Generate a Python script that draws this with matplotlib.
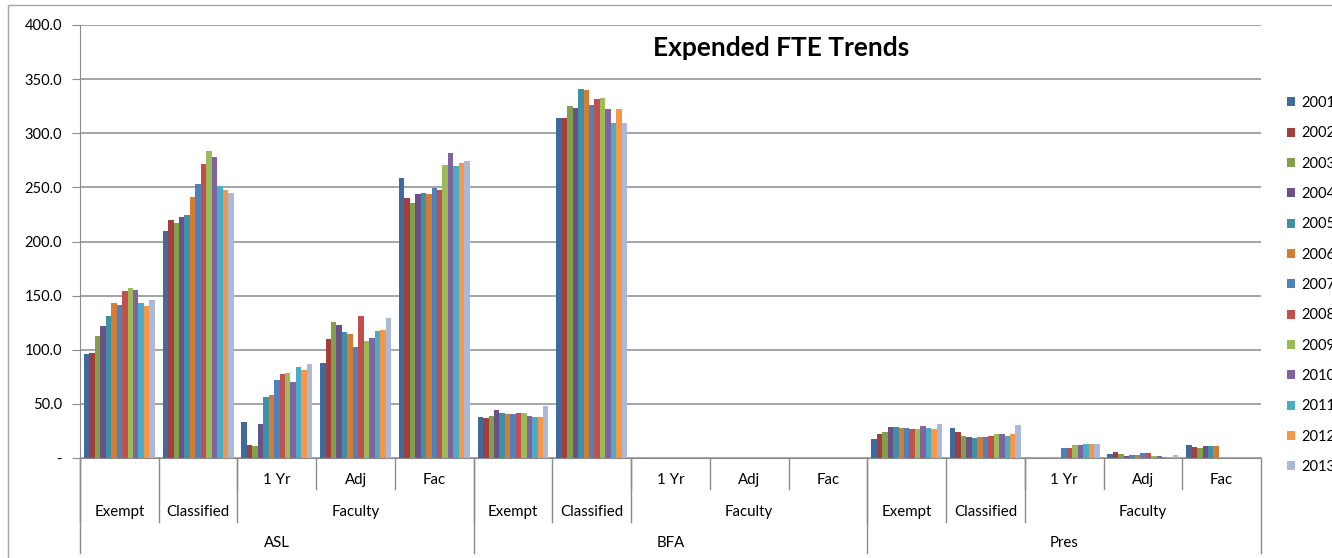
import numpy as np
import matplotlib.pyplot as plt
from matplotlib.patches import Rectangle

plt.rcParams['font.family'] = ['Lato', 'DejaVu Sans']

# Category axis (three levels)
sub_labels = ["", "", "1 Yr", "Adj", "Fac"] * 3
mid_labels = ["Exempt", "Classified", "Faculty"] * 3
mid_spans = [1, 1, 3] * 3
top_labels = ["ASL", "BFA", "Pres"]
top_spans = [5, 5, 5]

years = ["2001", "2002", "2003", "2004", "2005", "2006", "2007",
         "2008", "2009", "2010", "2011", "2012", "2013"]

# Expended FTE per year, one value per category (ASL x5, BFA x5, Pres x5)
fte_2001 = [96.4, 209.8, 33.3, 87.7, 258.6, 37.9, 313.8, 0, 0, 0, 17.6, 27.5, 0, 3.7, 11.7]
fte_2002 = [97.0, 219.6, 12.3, 109.6, 240.1, 37.0, 314.4, 0, 0, 0, 22.2, 23.8, 0, 5.9, 10.2]
fte_2003 = [113.1, 217.2, 11.4, 125.6, 235.5, 38.8, 324.9, 0, 0, 0, 24.4, 20.4, 0, 4.0, 9.6]
fte_2004 = [122.3, 222.7, 31.8, 122.8, 244.1, 44.1, 323.1, 0, 0, 0, 28.7, 19.8, 0, 2.2, 11.4]
fte_2005 = [131.5, 224.9, 56.2, 116.0, 245.1, 41.3, 340.9, 0, 0, 0, 28.7, 18.2, 0, 2.8, 11.1]
fte_2006 = [142.9, 240.9, 58.0, 114.8, 244.1, 40.7, 339.7, 0, 0, 0, 27.8, 19.4, 0, 3.1, 11.4]
fte_2007 = [141.1, 252.9, 71.9, 102.5, 249.7, 40.4, 325.8, 0, 0, 0, 27.5, 19.1, 8.9, 4.9, 0]
fte_2008 = [154.3, 272.0, 77.5, 131.2, 247.8, 41.9, 332.0, 0, 0, 0, 26.5, 20.1, 8.9, 4.9, 0]
fte_2009 = [157.1, 283.4, 78.1, 107.7, 271.0, 41.9, 332.3, 0, 0.6, 0, 26.9, 22.5, 12.0, 1.5, 0]
fte_2010 = [154.9, 278.5, 70.1, 110.8, 281.8, 38.8, 322.1, 0, 0, 0, 29.3, 21.9, 12.0, 1.8, 0]
fte_2011 = [142.9, 251.1, 84.0, 117.3, 270.1, 37.9, 309.5, 0, 0, 0, 27.5, 20.4, 12.9, 1.2, 0]
fte_2012 = [140.2, 247.4, 81.5, 118.5, 272.2, 37.9, 322.1, 0, 0, 0, 26.5, 21.9, 12.6, 1.2, 0]
fte_2013 = [146.0, 244.9, 86.7, 129.3, 274.7, 47.8, 309.5, 0, 0, 0, 31.2, 30.2, 12.6, 2.8, 0]

series = [fte_2001, fte_2002, fte_2003, fte_2004, fte_2005, fte_2006, fte_2007,
          fte_2008, fte_2009, fte_2010, fte_2011, fte_2012, fte_2013]

colors = ['#3F6A9E', '#A23E3C', '#82A04A', '#6A5288', '#3D90A5', '#D37D34', '#4F81BD',
          '#C0504D', '#9BBB59', '#8064A2', '#4BACC6', '#F79646', '#AAB9D9']

fig = plt.figure(figsize=(13.32, 5.58), dpi=100)
ax = fig.add_axes([80 / 1332, 1 - 458 / 558, (1261 - 80) / 1332, 433 / 558])

# outer chart border
fig.patches.append(Rectangle((8 / 1332, -0.1), 1.2, 1.1 - 5 / 558, transform=fig.transFigure,
                             fill=False, edgecolor='#a6a6a6', lw=1.0))

n_cat = len(sub_labels)
n_ser = len(series)
width = 0.9 / n_ser
x = np.arange(n_cat)
for i, vals in enumerate(series):
    ax.bar(x + 0.05 + width * (i + 0.5), vals, width, color=colors[i], label=years[i],
           linewidth=0, align='center')

ax.set_xlim(0, n_cat)
ax.set_ylim(0, 400)
ax.set_yticks(np.arange(0, 401, 50))
ax.set_yticklabels(['-'] + ['%.1f' % v for v in np.arange(50, 401, 50)], fontsize=10.5)
ax.yaxis.grid(True, color='#8c8c8c', lw=1.1)
ax.set_axisbelow(True)
ax.tick_params(axis='y', length=6, color='#8c8c8c', pad=7)
ax.set_xticks([])
for s in ['top', 'right']:
    ax.spines[s].set_visible(False)
ax.spines['left'].set_color('#8c8c8c')
ax.spines['bottom'].set_color('#8c8c8c')
ax.spines['bottom'].set_zorder(5)

trans = ax.get_xaxis_transform()
line_kw = dict(color='#8c8c8c', lw=1.0, clip_on=False, transform=trans)
lab_fs = 10.8
y1_lab, y1_bot = -0.051, -0.072
y2_lab, y2_bot = -0.125, -0.148
y3_lab, y3_bot = -0.196, -0.219

# level 1 labels (only under Faculty)
for i, lab in enumerate(sub_labels):
    if lab:
        ax.text(i + 0.5, y1_lab, lab, ha='center', va='center', fontsize=lab_fs, transform=trans)
        ax.plot([i, i], [0, y1_bot], **line_kw)

# level 2 labels
pos = 0
for lab, span in zip(mid_labels, mid_spans):
    ax.text(pos + span / 2, y2_lab, lab, ha='center', va='center', fontsize=lab_fs, transform=trans)
    ax.plot([pos, pos], [0, y2_bot], **line_kw)
    pos += span

# level 3 labels
pos = 0
for lab, span in zip(top_labels, top_spans):
    ax.text(pos + span / 2, y3_lab, lab, ha='center', va='center', fontsize=lab_fs, transform=trans)
    ax.plot([pos, pos], [0, y3_bot], **line_kw)
    pos += span
ax.plot([pos, pos], [0, y3_bot], **line_kw)

ax.text(0.594, 0.948, "Expended FTE Trends", transform=ax.transAxes, ha='center',
        va='center', fontsize=19, fontweight='bold')

# legend runs past the right edge, as in the original chart
leg = fig.legend(loc='upper left', bbox_to_anchor=(1287 / 1332, 1 - 96 / 558), frameon=False,
                 fontsize=10.5, handlelength=0.55, handleheight=0.55, handletextpad=0.42,
                 labelspacing=1.12, borderaxespad=0, borderpad=0)

fig.savefig('out.png', dpi=100)
